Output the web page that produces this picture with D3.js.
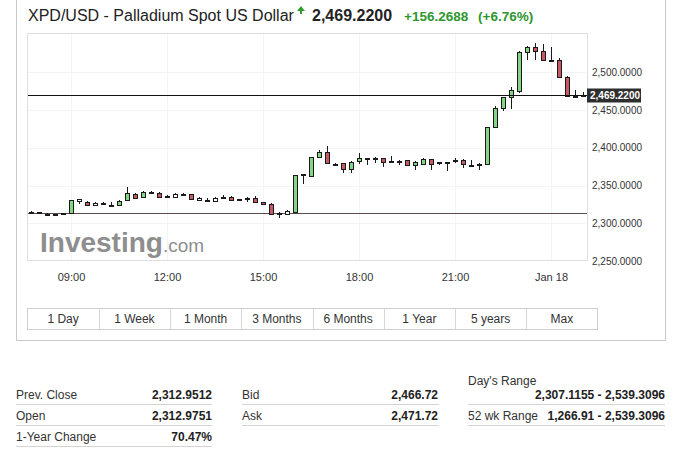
<!DOCTYPE html>
<html><head><meta charset="utf-8">
<script src="https://cdn.jsdelivr.net/npm/d3@7"></script>
<style>
html,body{margin:0;padding:0;background:#fff;}
svg{display:block;font-family:"Liberation Sans",Arial,sans-serif;}
</style></head><body>
<svg id="chart" width="677" height="452"></svg>
<script>
// ---------- data ----------
const times = ["2020-01-17T07:45","2020-01-17T08:00","2020-01-17T08:15","2020-01-17T08:30","2020-01-17T08:45",
"2020-01-17T09:00","2020-01-17T09:15","2020-01-17T09:30","2020-01-17T09:45","2020-01-17T10:00",
"2020-01-17T10:15","2020-01-17T10:30","2020-01-17T10:45","2020-01-17T11:00","2020-01-17T11:15",
"2020-01-17T11:30","2020-01-17T11:45","2020-01-17T12:00","2020-01-17T12:15","2020-01-17T12:30",
"2020-01-17T12:45","2020-01-17T13:00","2020-01-17T13:15","2020-01-17T13:30","2020-01-17T13:45",
"2020-01-17T14:00","2020-01-17T14:15","2020-01-17T14:30","2020-01-17T14:45","2020-01-17T15:00",
"2020-01-17T15:15","2020-01-17T15:30","2020-01-17T15:45","2020-01-17T16:00","2020-01-17T16:15",
"2020-01-17T16:30","2020-01-17T16:45","2020-01-17T17:00","2020-01-17T17:15","2020-01-17T17:30",
"2020-01-17T17:45","2020-01-17T18:00","2020-01-17T18:15","2020-01-17T18:30","2020-01-17T18:45",
"2020-01-17T19:00","2020-01-17T19:15","2020-01-17T19:30","2020-01-17T19:45","2020-01-17T20:00",
"2020-01-17T20:15","2020-01-17T20:30","2020-01-17T20:45","2020-01-17T21:00","2020-01-17T21:15",
"2020-01-17T21:30","2020-01-17T21:45","2020-01-17T22:00","2020-01-17T22:15","2020-01-17T22:30",
"2020-01-17T22:45","2020-01-17T23:00","2020-01-17T23:15","2020-01-17T23:30","2020-01-17T23:45",
"2020-01-18T00:00","2020-01-18T00:15","2020-01-18T00:30","2020-01-18T00:45","2020-01-18T01:00"];
const opens = [2312.98,2314.5,2312.7,2312.0,2311.9,2313.0,2329.5,2328.6,2324.5,2325.0,
2324.8,2324.0,2330.5,2339.0,2334.4,2342.0,2340.5,2335.5,2335.0,2339.0,
2338.6,2331.0,2330.6,2330.0,2334.5,2335.0,2332.0,2333.0,2334.0,2328.2,
2325.8,2313.0,2312.8,2315.5,2364.2,2362.0,2387.5,2394.0,2379.0,2379.4,
2371.4,2381.8,2385.6,2386.2,2386.0,2382.6,2382.6,2383.6,2377.2,2378.0,
2384.8,2380.0,2381.0,2382.6,2384.3,2376.8,2376.8,2378.5,2427.0,2452.0,
2466.7,2475.5,2526.6,2534.1,2528.8,2516.0,2516.4,2493.1,2468.8,2468.5];
const highs = [2316.0,2315.2,2313.2,2312.4,2313.6,2331.0,2332.0,2329.0,2327.5,2327.5,
2328.0,2330.3,2347.5,2339.7,2342.3,2342.6,2341.0,2337.3,2339.5,2340.2,
2339.2,2334.4,2333.0,2334.2,2337.5,2335.8,2332.6,2334.4,2335.8,2328.8,
2326.5,2315.0,2317.5,2364.5,2365.5,2387.8,2397.0,2402.2,2379.8,2380.0,
2381.8,2392.6,2386.2,2387.5,2386.4,2389.0,2383.3,2384.0,2382.0,2386.0,
2385.5,2381.6,2381.7,2386.0,2385.0,2384.0,2380.0,2427.5,2454.8,2467.5,
2480.3,2527.5,2535.0,2539.31,2537.6,2533.2,2519.0,2495.2,2476.0,2473.5];
const lows = [2312.0,2312.8,2311.0,2311.0,2311.5,2312.3,2325.5,2324.0,2324.0,2324.5,
2324.1,2323.6,2330.0,2331.5,2333.8,2338.4,2333.5,2333.0,2334.4,2337.3,
2331.2,2330.4,2329.6,2329.5,2333.8,2329.0,2329.5,2328.6,2327.5,2324.8,
2311.9,2307.1,2312.2,2315.0,2351.6,2361.0,2386.5,2379.0,2378.0,2366.1,
2366.1,2378.4,2377.1,2379.5,2375.0,2382.0,2377.0,2376.5,2370.5,2377.0,
2370.5,2377.0,2369.2,2380.0,2373.0,2376.0,2370.5,2377.0,2426.5,2448.2,
2451.6,2473.0,2516.4,2516.4,2515.0,2515.2,2492.5,2467.5,2468.0,2468.2];
const closes = [2315.0,2313.3,2311.5,2311.6,2313.0,2330.8,2331.5,2324.5,2326.8,2327.0,
2324.3,2330.0,2339.5,2333.2,2341.5,2341.3,2334.5,2335.0,2338.8,2338.6,
2332.0,2333.9,2329.9,2333.8,2335.0,2330.5,2332.4,2334.0,2328.0,2325.3,
2312.8,2313.4,2316.7,2364.0,2365.0,2387.3,2394.5,2379.5,2378.6,2371.4,
2381.5,2385.8,2386.0,2385.8,2381.5,2382.3,2383.0,2377.0,2381.5,2384.8,
2378.6,2381.3,2381.5,2383.2,2379.0,2376.3,2378.4,2427.0,2452.5,2466.6,
2475.9,2526.6,2534.1,2528.8,2515.6,2515.6,2493.1,2468.2,2468.4,2469.22];
const yTicks = [2250,2300,2350,2400,2450,2500];
const xTickTimes = ["2020-01-17T09:00","2020-01-17T12:00","2020-01-17T15:00","2020-01-17T18:00","2020-01-17T21:00","2020-01-18T00:00"];
const xTickLabels = ["09:00","12:00","15:00","18:00","21:00","Jan 18"];
const lastPrice = 2469.22;
const prevClose = 2312.9512;
const buttonLabels = ["1 Day","1 Week","1 Month","3 Months","6 Months","1 Year","5 years","Max"];
const tableLeftLabels = ["Prev. Close","Open","1-Year Change"];
const tableLeftValues = ["2,312.9512","2,312.9751","70.47%"];
const tableMidLabels = ["Bid","Ask"];
const tableMidValues = ["2,466.72","2,471.72"];

// ---------- setup ----------
const parse = d3.timeParse("%Y-%m-%dT%H:%M");
const candles = times.map((t,i)=>({t:parse(t),o:opens[i],h:highs[i],l:lows[i],c:closes[i]}));
const svg = d3.select("#chart");
svg.append("rect").attr("width",677).attr("height",452).attr("fill","#fff");

const P = {l:27, r:587, t:33, b:261};
const half = 7.5*60*1000;
const x = d3.scaleTime()
  .domain([new Date(candles[0].t.getTime()-half), new Date(candles[candles.length-1].t.getTime()+half)])
  .range([P.l, P.r]);
const y = d3.scaleLinear().domain([2250, 2552]).range([P.b, P.t]);

// outer frame
const frame = svg.append("g").attr("stroke","#c9c9c9").attr("fill","none");
frame.append("line").attr("x1",16.5).attr("x2",16.5).attr("y1",0).attr("y2",340.5);
frame.append("line").attr("x1",665.5).attr("x2",665.5).attr("y1",0).attr("y2",340.5);
frame.append("line").attr("x1",16.5).attr("x2",665.5).attr("y1",340.5).attr("y2",340.5);

// title
const title = svg.append("g");
title.append("text").attr("x",28).attr("y",21).attr("font-size",16).attr("fill","#222")
  .text("XPD/USD - Palladium Spot US Dollar");
title.append("path").attr("d","M297,11 L301,6 L305,11 Z M300,11 L302,11 L302,14 L300,14 Z").attr("fill","#2f9e2f");
title.append("text").attr("x",312).attr("y",21).attr("font-size",16).attr("font-weight","bold").attr("fill","#222")
  .text("2,469.2200");
title.append("text").attr("x",404).attr("y",21).attr("font-size",13.5).attr("font-weight","bold").attr("fill","#2e962e")
  .text("+156.2688");
title.append("text").attr("x",478).attr("y",21).attr("font-size",13.5).attr("font-weight","bold").attr("fill","#2e962e")
  .text("(+6.76%)");

// plot frame + faint grid
svg.append("rect").attr("x",P.l+0.5).attr("y",P.t+0.5).attr("width",P.r-P.l).attr("height",P.b-P.t-1)
  .attr("fill","none").attr("stroke","#dedede");
const grid = svg.append("g").attr("stroke","#f4f4f4");
grid.selectAll("line.v").data(xTickTimes.map(parse)).join("line")
  .attr("x1",d=>Math.round(x(d))+0.5).attr("x2",d=>Math.round(x(d))+0.5).attr("y1",P.t+1).attr("y2",P.b-1);
grid.selectAll("line.h").data(yTicks.filter(v=>v>2250)).join("line")
  .attr("x1",P.l+1).attr("x2",P.r-1).attr("y1",d=>Math.round(y(d))+0.5).attr("y2",d=>Math.round(y(d))+0.5);

// watermark
const wm = svg.append("text").attr("x",40).attr("y",252).attr("fill","#8e8e8e");
wm.append("tspan").attr("font-size",28).attr("font-weight","bold").text("Investing");
wm.append("tspan").attr("font-size",19).text(".com");

// prev close line
svg.append("line").attr("x1",P.l+1).attr("x2",P.r).attr("y1",Math.round(y(prevClose))+0.5).attr("y2",Math.round(y(prevClose))+0.5)
  .attr("stroke","#5a4c4c");

// candles
const bw = 5;
const cg = svg.append("g").selectAll("g").data(candles).join("g");
cg.append("line")
  .attr("x1",d=>Math.round(x(d.t))+0.5).attr("x2",d=>Math.round(x(d.t))+0.5)
  .attr("y1",d=>Math.round(y(d.h))).attr("y2",d=>Math.round(y(d.l)))
  .attr("stroke","#1a1a1a");
cg.append("rect")
  .attr("x",d=>Math.round(x(d.t))-Math.floor(bw/2)+0.5)
  .attr("y",d=>Math.round(y(Math.max(d.o,d.c)))+0.5)
  .attr("width",bw-1)
  .attr("height",d=>Math.max(1,Math.round(y(Math.min(d.o,d.c)))-Math.round(y(Math.max(d.o,d.c)))))
  .attr("fill",d=> d.c>=d.o ? (d.c-d.o<4 ? "#ffffff" : "#86d486") : "#c45a62")
  .attr("stroke","#1a1a1a");

// last price line
svg.append("line").attr("x1",P.l+1).attr("x2",P.r).attr("y1",Math.round(y(lastPrice))+0.5).attr("y2",Math.round(y(lastPrice))+0.5)
  .attr("stroke","#111");

// y axis
const ya = svg.append("g").attr("transform",`translate(${P.r},0)`)
  .call(d3.axisRight(y).tickValues(yTicks).tickFormat(d3.format(",.4f")).tickSize(0).tickPadding(5));
ya.select(".domain").remove();
ya.selectAll("text").attr("font-size",10).attr("fill","#333").attr("font-family","Liberation Sans, Arial, sans-serif");

// price tag
const py = y(lastPrice);
svg.append("rect").attr("x",P.r).attr("y",py-7).attr("width",54).attr("height",14).attr("fill","#2e2e2e");
svg.append("text").attr("x",P.r+3).attr("y",py+3.5).attr("font-size",10).attr("fill","#fff").attr("font-weight","bold")
  .text(d3.format(",.4f")(lastPrice));

// x axis
const xa = svg.append("g").attr("transform",`translate(0,${P.b})`)
  .call(d3.axisBottom(x).tickValues(xTickTimes.map(parse)).tickFormat((d,i)=>xTickLabels[i]).tickSize(0).tickPadding(12));
xa.select(".domain").remove();
xa.selectAll("text").attr("font-size",11).attr("fill","#333").attr("font-family","Liberation Sans, Arial, sans-serif");

// buttons
const bx = d3.scaleBand().domain(buttonLabels).range([27.5, 597.5]);
const bg = svg.append("g");
bg.append("rect").attr("x",27.5).attr("y",308.5).attr("width",570).attr("height",21).attr("fill","#fff").attr("stroke","#cfcfcf");
bg.selectAll("line").data(buttonLabels.slice(1)).join("line")
  .attr("x1",d=>Math.round(bx(d))+0.5).attr("x2",d=>Math.round(bx(d))+0.5).attr("y1",309).attr("y2",329).attr("stroke","#d6d6d6");
bg.selectAll("text").data(buttonLabels).join("text")
  .attr("x",d=>bx(d)+bx.bandwidth()/2).attr("y",323).attr("text-anchor","middle")
  .attr("font-size",12).attr("fill","#333").text(d=>d);

// table
const tg = svg.append("g").attr("font-size",12);
const rowY = [399, 420, 441];
const lineY = [404.5, 425.5, 446.5];
tableLeftLabels.forEach((lab,i)=>{
  tg.append("text").attr("x",16).attr("y",rowY[i]).attr("fill","#333").text(lab);
  tg.append("text").attr("x",212).attr("y",rowY[i]).attr("text-anchor","end").attr("font-weight","bold").attr("fill","#222").text(tableLeftValues[i]);
  tg.append("line").attr("x1",16).attr("x2",212).attr("y1",lineY[i]).attr("y2",lineY[i]).attr("stroke","#d4d4d4");
});
tableMidLabels.forEach((lab,i)=>{
  tg.append("text").attr("x",242).attr("y",rowY[i]).attr("fill","#333").text(lab);
  tg.append("text").attr("x",438).attr("y",rowY[i]).attr("text-anchor","end").attr("font-weight","bold").attr("fill","#222").text(tableMidValues[i]);
  tg.append("line").attr("x1",242).attr("x2",439).attr("y1",lineY[i]).attr("y2",lineY[i]).attr("stroke","#d4d4d4");
});
tg.append("text").attr("x",468).attr("y",385).attr("fill","#333").text("Day's Range");
tg.append("text").attr("x",665).attr("y",399).attr("text-anchor","end").attr("font-weight","bold").attr("fill","#222").text("2,307.1155 - 2,539.3096");
tg.append("line").attr("x1",468).attr("x2",665).attr("y1",lineY[0]).attr("y2",lineY[0]).attr("stroke","#d4d4d4");
tg.append("text").attr("x",468).attr("y",420).attr("fill","#333").text("52 wk Range");
tg.append("text").attr("x",665).attr("y",420).attr("text-anchor","end").attr("font-weight","bold").attr("fill","#222").text("1,266.91 - 2,539.3096");
tg.append("line").attr("x1",468).attr("x2",665).attr("y1",lineY[1]).attr("y2",lineY[1]).attr("stroke","#d4d4d4");
</script>
</body></html>
